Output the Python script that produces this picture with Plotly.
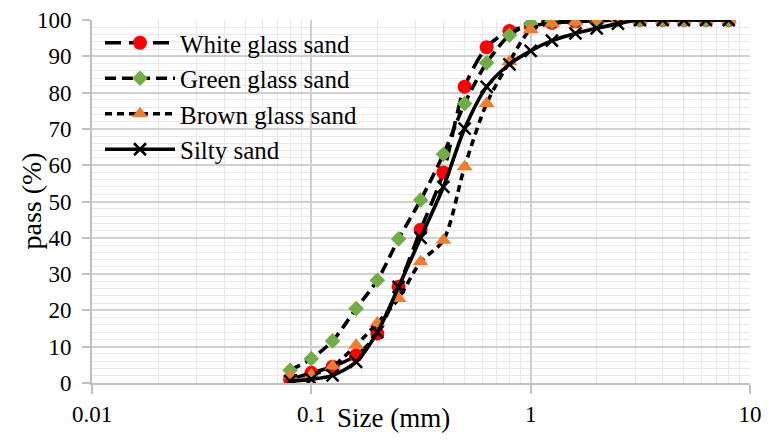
import plotly.graph_objects as go

sizes = [0.08, 0.1, 0.125, 0.16, 0.2, 0.25, 0.315, 0.4, 0.5, 0.63, 0.8, 1.0,
         1.25, 1.6, 2.0, 2.5, 3.15, 4.0, 5.0, 6.3, 8.0]

white = [1.0, 2.8, 4.5, 7.6, 13.6, 26.5, 42.2, 58.0, 81.6, 92.5, 97.0, 98.3,
         99.2, 99.6, 99.8, 100, 100, 100, 100, 100, 100]
green = [3.5, 6.7, 11.6, 20.5, 28.3, 39.7, 50.4, 63.0, 77.0, 88.2, 95.8, 99.0,
         99.6, 99.8, 100, 100, 100, 100, 100, 100, 100]
brown = [2.0, 2.2, 4.6, 10.4, 16.5, 23.3, 33.4, 39.3, 59.6, 77.0, 88.5, 97.3,
         99.1, 99.5, 99.8, 100, 100, 100, 100, 100, 100]
silty = [0.5, 1.0, 2.1, 5.8, 14.0, 26.5, 40.0, 54.0, 70.1, 81.6, 87.8, 91.5,
         94.3, 96.3, 97.7, 99.0, 100, 100, 100, 100, 100]

names = ["White glass sand", "Green glass sand", "Brown glass sand", "Silty sand"]
x_ticks = [0.01, 0.1, 1, 10]
x_tick_labels = ["0.01", "0.1", "1", "10"]
y_ticks = list(range(0, 101, 10))

FONT = "Liberation Serif"

# page body has an 8px default margin; figure is placed accordingly
L, T, PW, PH = 84, 12, 658, 363
W, H = 761, 433

fig = go.Figure()

styles = [
    dict(values=white, dash="16px,8px", marker=dict(symbol="circle", size=14, color="#FF0000")),
    dict(values=green, dash="11px,6px", marker=dict(symbol="diamond", size=12, color="#70AD47")),
    dict(values=brown, dash="7px,5px", marker=dict(symbol="triangle-up", size=14, color="#ED7D31")),
    dict(values=silty, dash="solid", marker=dict(symbol="x-thin", size=12, color="black",
                                                  line=dict(width=2.5, color="black"))),
]

for i, (name, st) in enumerate(zip(names, styles)):
    fig.add_trace(go.Scatter(
        x=sizes, y=st["values"], name=name, mode="lines+markers",
        line=dict(color="black", width=3.6, dash=st["dash"], shape="spline", smoothing=0.8),
        marker=st["marker"], legendgroup=str(i),
    ))

fig.update_layout(
    width=W, height=H,
    margin=dict(l=L, r=W - L - PW, t=T, b=H - T - PH),
    plot_bgcolor="white", paper_bgcolor="white",
    font=dict(family=FONT, size=23, color="black"),
    showlegend=True,
    legend=dict(x=8 / PW, y=1.0, xanchor="left", yanchor="top",
                bgcolor="rgba(0,0,0,0)", font=dict(family=FONT, size=25),
                tracegroupgap=0, itemwidth=70),
    xaxis=dict(
        type="log", range=[-2, 1], automargin=False,
        tickvals=x_ticks, ticktext=x_tick_labels,
        showgrid=True, gridcolor="#d0d0d0", gridwidth=1.5,
        minor=dict(showgrid=True, gridcolor="#e8e8e8", gridwidth=1,
                   tickvals=[m * 10 ** e for e in (-2, -1, 0) for m in range(2, 10)]),
        showline=True, linecolor="#c0c0c0", linewidth=2,
        ticks="outside", ticklen=9, tickcolor="#c0c0c0", tickwidth=1.5,
        zeroline=False, mirror=False,
    ),
    yaxis=dict(
        range=[0, 100], tickvals=y_ticks, automargin=False,
        showgrid=True, gridcolor="#d0d0d0", gridwidth=1.5,
        minor=dict(showgrid=True, gridcolor="#e8e8e8", gridwidth=1, dtick=2),
        showline=True, linecolor="#c0c0c0", linewidth=2,
        ticks="outside", ticklen=8, tickcolor="#c0c0c0", tickwidth=1.5,
        ticklabelstandoff=6,
        zeroline=False,
    ),
)

fig.add_annotation(text="Size (mm)", xref="paper", yref="paper",
                   x=(385 - L) / PW, y=-(410 - T - PH) / PH, xanchor="center", yanchor="middle",
                   showarrow=False, font=dict(family=FONT, size=27))
fig.add_annotation(text="pass (%)", xref="paper", yref="paper", textangle=-90,
                   x=-(L - 23) / PW, y=0.5, xanchor="center", yanchor="middle",
                   showarrow=False, font=dict(family=FONT, size=28))

fig.write_html("out.html")
